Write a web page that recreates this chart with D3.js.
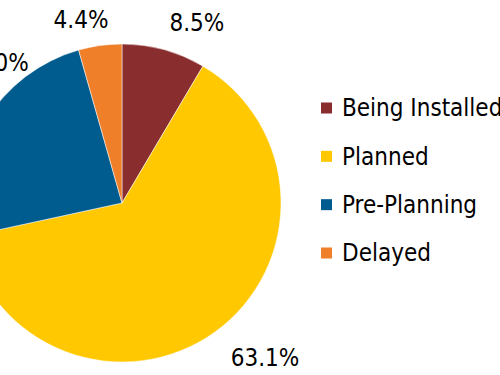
<!DOCTYPE html>
<html><head><meta charset="utf-8">
<script src="https://cdn.jsdelivr.net/npm/d3@7/dist/d3.min.js"></script>
<style>
html,body{margin:0;padding:0;background:#fff;overflow:hidden;}
text{font-family:"DejaVu Sans Condensed","DejaVu Sans",sans-serif;font-stretch:condensed;}
</style></head>
<body>
<script>
const categories = ["Being Installed", "Planned", "Pre-Planning", "Delayed"];
const values = [8.5, 63.1, 24.0, 4.4];
const valueLabels = ["8.5%", "63.1%", "24.0%", "4.4%"];
const colors = ["#8A2D2F", "#FFC800", "#005C8E", "#F07F2A"];

// label placement (angle in degrees clockwise from top, distance from centre)
const labelAngles = [22.6, 137.3, 317.8, 347.4];
const labelRadii = [195, 211, 190, 188];

const W = 500, H = 375;
const cx = 122, cy = 203, R = 159;
const fontSize = 24;

const svg = d3.select("body").append("svg").attr("width", W).attr("height", H);
const g = svg.append("g").attr("transform", `translate(${cx},${cy})`);

const pie = d3.pie().sort(null).value(d => d.v);
const data = pie(categories.map((c, i) => ({c, v: values[i], i})));
const arc = d3.arc().innerRadius(0).outerRadius(R);

g.selectAll("path").data(data).join("path")
  .attr("d", arc)
  .attr("fill", d => colors[d.data.i])
  .attr("stroke", "#fff").attr("stroke-width", 0.5);

g.selectAll("text.lbl").data(data).join("text")
  .attr("class", "lbl")
  .attr("x", d => labelRadii[d.data.i] * Math.sin(labelAngles[d.data.i] * Math.PI / 180))
  .attr("y", d => -labelRadii[d.data.i] * Math.cos(labelAngles[d.data.i] * Math.PI / 180))
  .attr("dy", "0.35em")
  .attr("text-anchor", "middle")
  .attr("font-size", fontSize)
  .attr("fill", "#000")
  .text(d => valueLabels[d.data.i]);

const legendY = d3.scalePoint().domain(categories).range([108, 253]);
const lg = svg.append("g");
const items = lg.selectAll("g").data(categories).join("g")
  .attr("transform", c => `translate(321,${legendY(c)})`);
items.append("rect").attr("x", 0).attr("y", -5.5).attr("width", 11).attr("height", 11)
  .attr("fill", (c, i) => colors[i]);
items.append("text").attr("x", 21).attr("y", 0).attr("dy", "0.35em")
  .attr("font-size", fontSize).attr("fill", "#000").text(c => c);
</script>
</body></html>
